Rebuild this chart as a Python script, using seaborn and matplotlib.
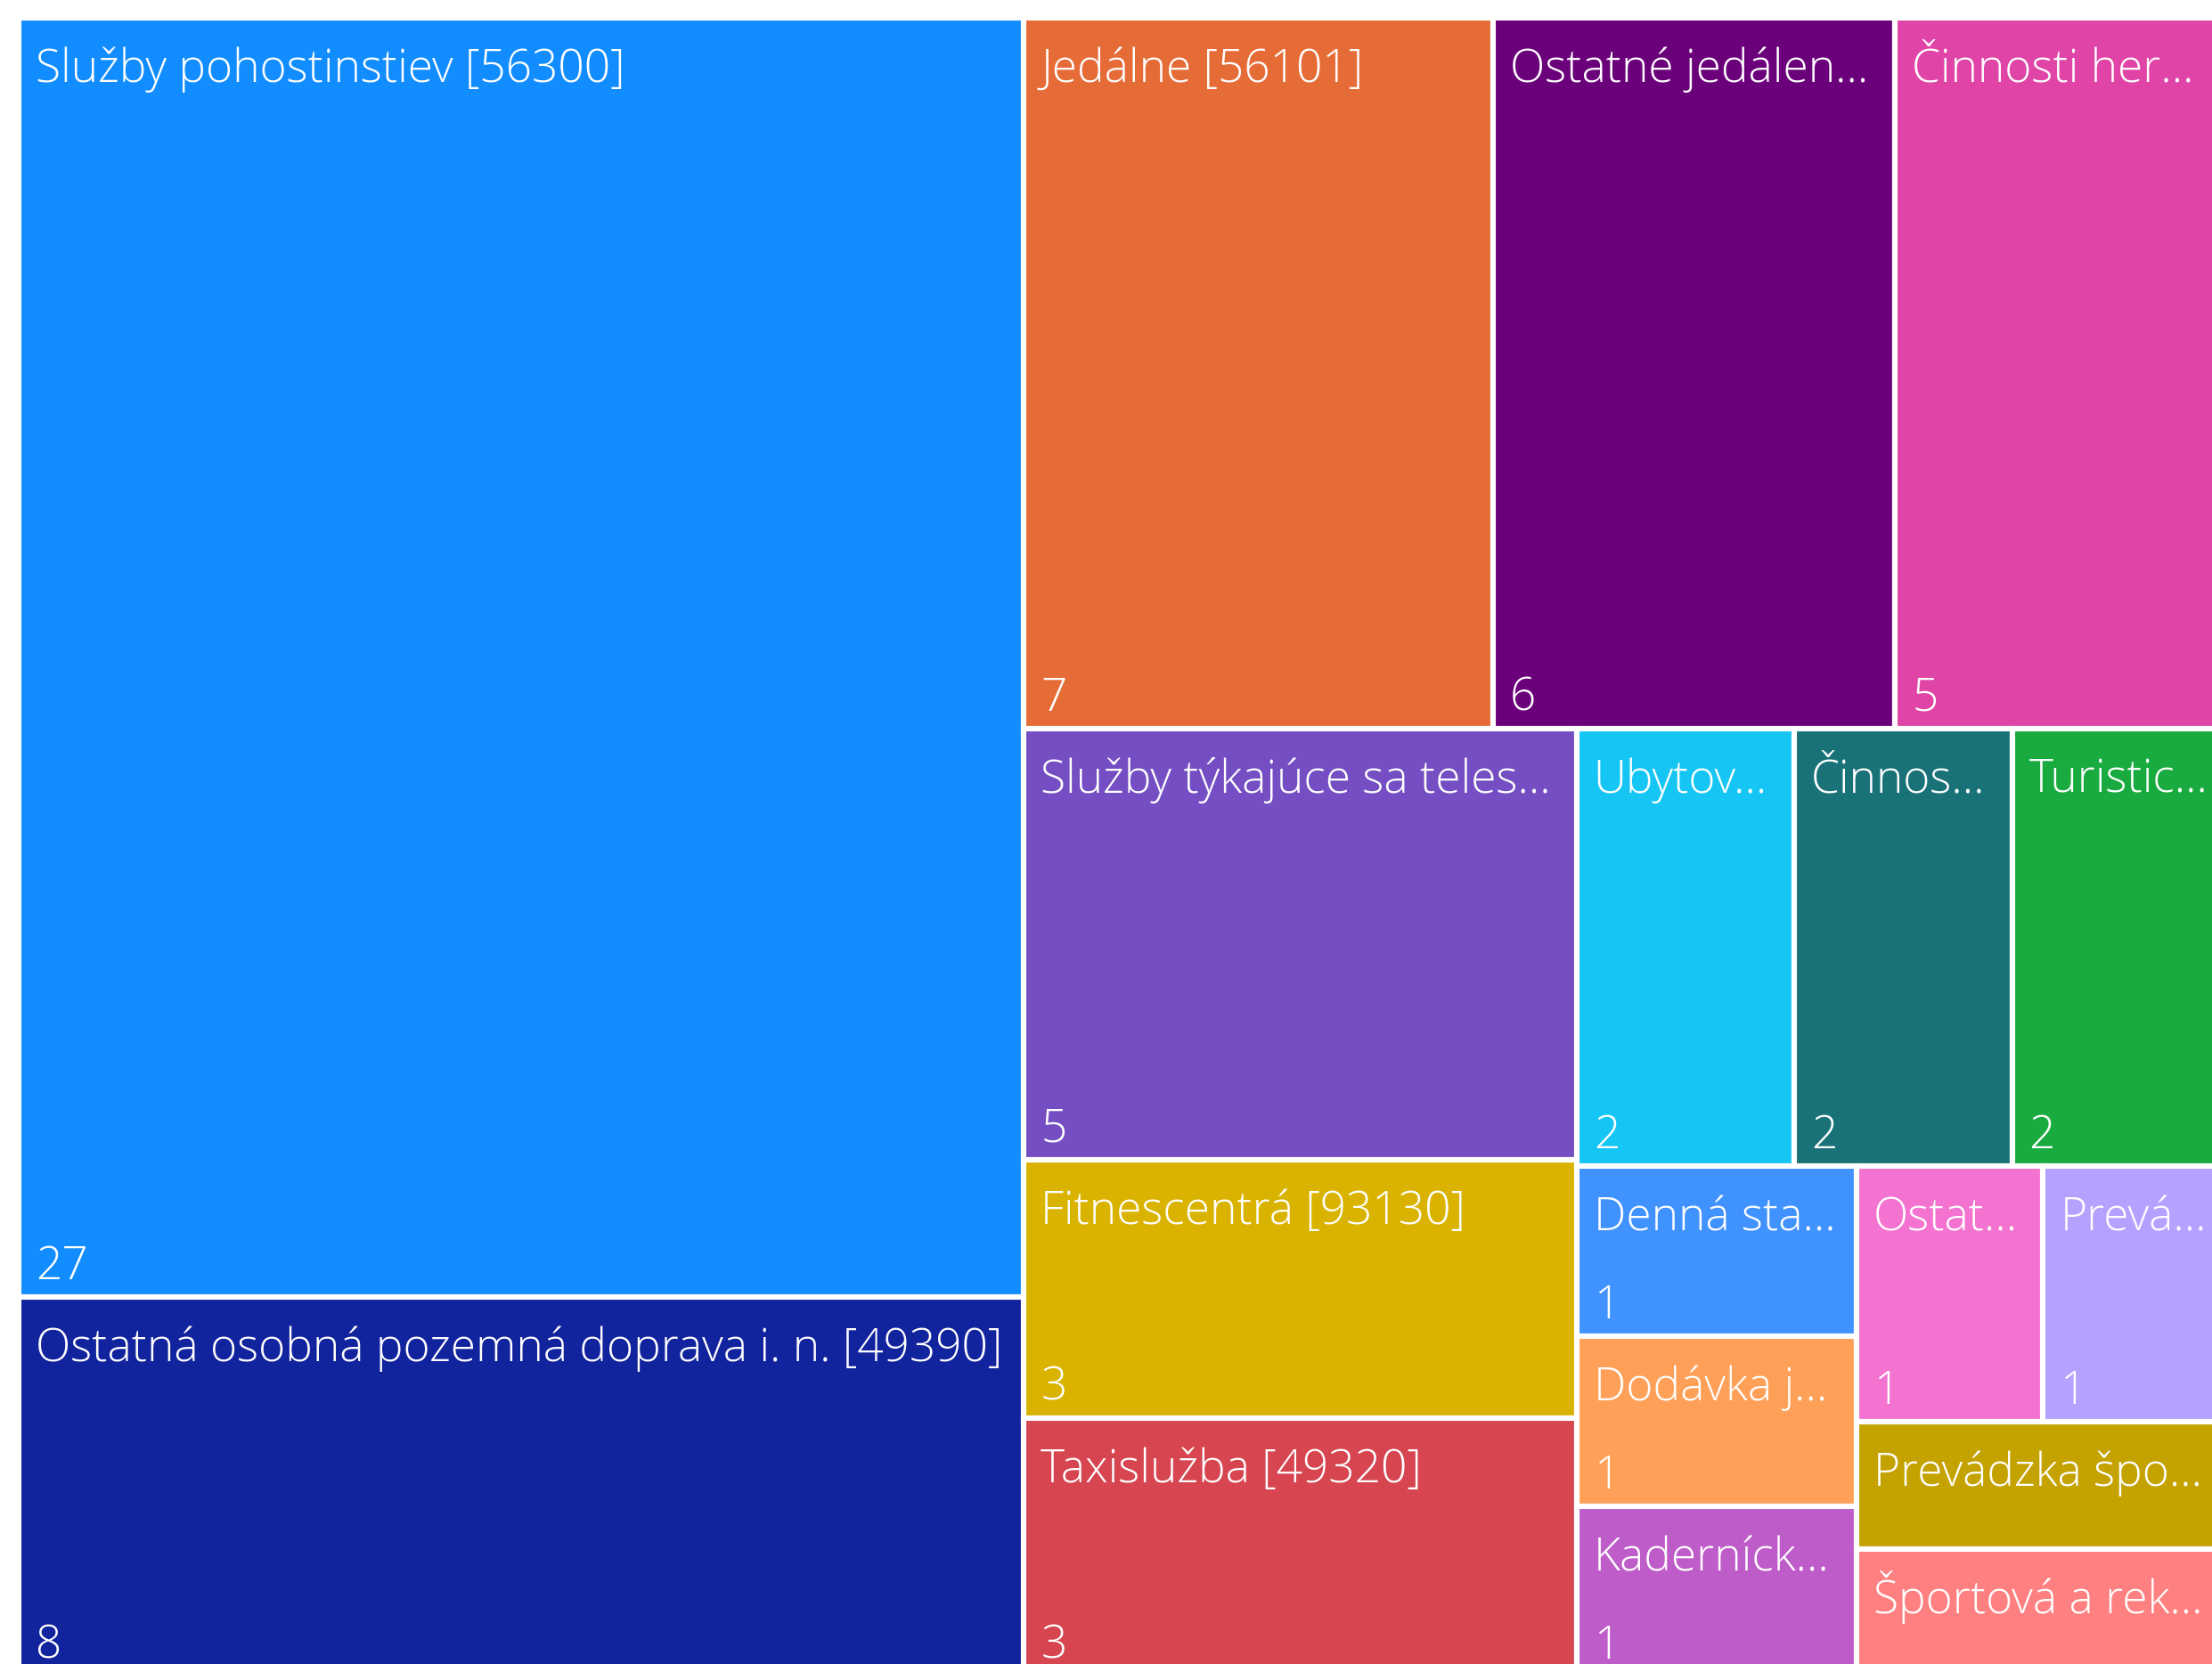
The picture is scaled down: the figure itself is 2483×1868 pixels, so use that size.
import numpy as np
import pandas as pd
import seaborn as sns
import matplotlib.pyplot as plt
from matplotlib.patches import Rectangle

# údaje (tak ako sú viditeľné v grafe)
labels = [
    "Služby pohostinstiev [56300]",
    "Ostatná osobná pozemná doprava i. n. [49390]",
    "Jedálne [56101]",
    "Ostatné jedálen...",
    "Činnosti her...",
    "Služby týkajúce sa teles...",
    "Fitnescentrá [93130]",
    "Taxislužba [49320]",
    "Ubytov...",
    "Činnos...",
    "Turistic...",
    "Denná sta...",
    "Dodávka j...",
    "Kaderníck...",
    "Ostat...",
    "Prevá...",
    "Prevádzka špo...",
    "Športová a rek...",
]
counts = [27, 8, 7, 6, 5, 5, 3, 3, 2, 2, 2, 1, 1, 1, 1, 1, 1, 1]
colors = [
    "#118DFF", "#12239E", "#E66C37", "#6B007B", "#E044A7", "#744EC2",
    "#D9B300", "#D64550", "#15C6F4", "#197278", "#1AAB40", "#4092FF",
    "#FFA058", "#BE5DC9", "#F472D0", "#B5A1FF", "#C4A200", "#FF8080",
]

df = pd.DataFrame({"label": labels, "count": counts, "color": colors})

sns.set_style("white")
plt.rcParams['font.family'] = ['Open Sans', 'DejaVu Sans']


# squarified treemap (d3 style, golden ratio)
def squarify(values, x0, y0, x1, y1, ratio=(1 + 5 ** 0.5) / 2):
    rects = []
    total = float(sum(values))
    i0 = 0
    n = len(values)
    while i0 < n:
        dx, dy = x1 - x0, y1 - y0
        i1 = i0 + 1
        s = values[i0]
        vmin = vmax = s
        alpha = max(dy / dx, dx / dy) / (total * ratio)
        beta = s * s * alpha
        best = max(vmax / beta, beta / vmin)
        while i1 < n:
            v = values[i1]
            s2 = s + v
            beta = s2 * s2 * alpha
            r = max(max(vmax, v) / beta, beta / min(vmin, v))
            if r > best:
                break
            s = s2
            vmin, vmax = min(vmin, v), max(vmax, v)
            best = r
            i1 += 1
        row = values[i0:i1]
        if dx < dy:
            h = dy * s / total
            cx = x0
            for v in row:
                w = dx * v / s
                rects.append((cx, y0, w, h))
                cx += w
            y0 += h
        else:
            w = dx * s / total
            cy = y0
            for v in row:
                h = dy * v / s
                rects.append((x0, cy, w, h))
                cy += h
            x0 += w
        total -= s
        i0 = i1
    return rects


fig = plt.figure(figsize=(24.83, 18.68), dpi=100)
ax = fig.add_axes([0, 0, 1, 1])
ax.set_xlim(0, 2483)
ax.set_ylim(1868, 0)
ax.axis('off')

rects = squarify(list(df["count"]), 21, 20, 2503, 1882)
pal = sns.color_palette(list(df["color"]))

for (x, y, w, h), lab, c, col in zip(rects, df["label"], df["count"], pal):
    r = Rectangle((x, y), w, h, facecolor=col, edgecolor="white", linewidth=4.4)
    ax.add_patch(r)
    t1 = ax.text(x + 19, y + 72, lab, color="white", fontsize=37,
                 fontweight="light", va="baseline", ha="left")
    t1.set_clip_path(r)
    # hodnota sa zobrazí len ak je dlaždica dosť vysoká
    if h > 165:
        t2 = ax.text(x + 19, y + h - 20, str(c), color="white", fontsize=37,
                     fontweight="light", va="baseline", ha="left")
        t2.set_clip_path(r)

fig.savefig("out.png", dpi=100)
